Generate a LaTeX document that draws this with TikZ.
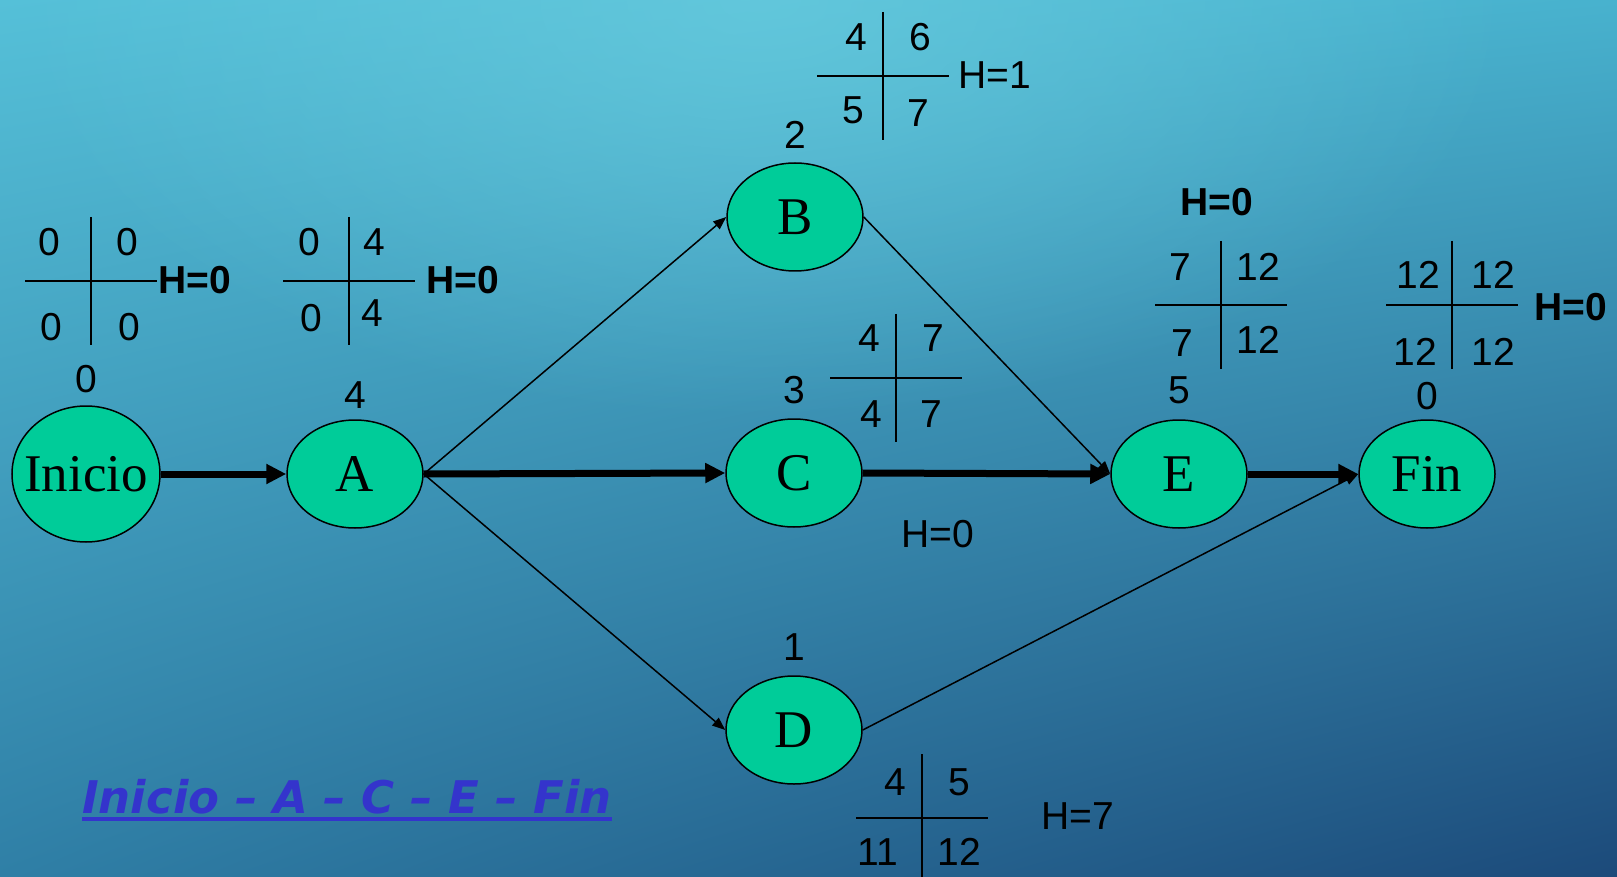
\documentclass[tikz,border=0pt]{standalone}
\usepackage{fontspec}
\setmainfont{Liberation Sans}
\newfontfamily\serifa{Liberation Serif}
\newfontfamily\rutafont{DejaVu Sans}
\usetikzlibrary{shapes.geometric,arrows.meta,fadings,shadings}
\definecolor{fondoUL}{HTML}{55C0D8}
\definecolor{fondoUR}{HTML}{48B2CE}
\definecolor{fondoLL}{HTML}{2F7FA6}
\definecolor{fondoLR}{HTML}{1C4A7A}
\definecolor{brilloC}{HTML}{6ACDDF}
\definecolor{verde}{HTML}{00CC99}
\definecolor{azulruta}{HTML}{3434CC}
\tikzfading[name=brillo, inner color=transparent!0, outer color=transparent!100]
% cruz de tiempos: centro x, centro y
\newcommand{\cruz}[2]{\draw[line width=1.5pt] (#1-66,#2) -- (#1+66,#2) (#1,#2-64) -- (#1,#2+64);}

\begin{document}
\begin{tikzpicture}[x=1pt, y=-1pt,
    evento/.style={ellipse, draw=black, line width=1.5pt, fill=verde, minimum width=136pt, minimum height=108pt, inner sep=0pt, font=\serifa\fontsize{53}{53}\selectfont},
    num/.style={inner sep=0pt, font=\fontsize{39}{39}\selectfont},
    holgura/.style={inner sep=0pt, font=\bfseries\fontsize{39}{39}\selectfont},
    critica/.style={line width=7pt, -{Triangle[length=20pt,width=19pt]}},
    actividad/.style={line width=1.5pt, -{Triangle[length=13pt,width=10pt]}}]
    % fondo
    \useasboundingbox (0,0) rectangle (1617,877);
    \shade[upper left=fondoUL, upper right=fondoUR, lower left=fondoLL, lower right=fondoLR] (0,0) rectangle (1617,877);
    \fill[brilloC, path fading=brillo, opacity=0.7] (760,0) ellipse (760 and 420);

    % eventos
    \node[evento, inner xsep=-10pt, minimum width=148pt, minimum height=136pt, label={[num, label distance=12pt]above:0}] (inicio) at (86,474) {Inicio};
    \node[evento, label={[num, label distance=11pt]above:4}] (A) at (355,474) {A};
    \node[evento, label={[num, label distance=14pt]above:2}] (B) at (795,217) {B};
    \node[evento, label={[num, label distance=14pt]above:3}] (C) at (794,473) {C};
    \node[evento, label={[num, label distance=15pt]above:1}] (D) at (794,730) {D};
    \node[evento, label={[num, label distance=15pt]above:5}] (E) at (1179,474) {E};
    \node[evento, label={[num, label distance=9pt]above:0}] (fin) at (1427,474) {Fin};

    % actividades
    \draw[critica] (inicio.east) -- (A.west);
    \draw[critica] (A.east) -- (C.west);
    \draw[critica] (C.east) -- (E.west);
    \draw[critica] (E.east) -- (fin.west);
    \draw[actividad] (A.east) -- (B.west);
    \draw[actividad] (A.east) -- (D.west);
    \draw[actividad] (B.east) -- (E.west);
    \draw[actividad] (D.east) -- (fin.west);

    % tiempos de inicio
    \cruz{91}{281}
    \node[num] (i1) at (49,242) {0};
    \node[num] (i2) at (127,242) {0};
    \node[num] (i3) at (51,327) {0};
    \node[num] (i4) at (129,327) {0};
    \node[holgura, anchor=west] (hi) at (158,280) {H=0};

    % tiempos de A
    \cruz{349}{281}
    \node[num] (a1) at (309,242) {0};
    \node[num] (a2) at (374,242) {4};
    \node[num] (a3) at (311,318) {0};
    \node[num] (a4) at (372,313) {4};
    \node[holgura, anchor=west] (ha) at (426,280) {H=0};

    % tiempos de B
    \cruz{883}{76}
    \node[num] (b1) at (856,37) {4};
    \node[num] (b2) at (920,37) {6};
    \node[num] (b3) at (853,110) {5};
    \node[num] (b4) at (918,113) {7};
    \node[num, anchor=west] (hb) at (958,75) {H=1};

    % tiempos de C
    \cruz{896}{378}
    \node[num] (c1) at (869,338) {4};
    \node[num] (c2) at (933,338) {7};
    \node[num] (c3) at (871,414) {4};
    \node[num] (c4) at (931,414) {7};
    \node[num] (hc) at (938,534) {H=0};

    % tiempos de D
    \cruz{922}{818}
    \node[num] (d1) at (895,782) {4};
    \node[num] (d2) at (959,782) {5};
    \node[num] (d3) at (878,852) {11};
    \node[num] (d4) at (959,852) {12};
    \node[num] (hd) at (1078,816) {H=7};

    % tiempos de E
    \cruz{1221}{305}
    \node[num] (e1) at (1180,267) {7};
    \node[num] (e2) at (1258,267) {12};
    \node[num] (e3) at (1182,343) {7};
    \node[num] (e4) at (1258,340) {12};
    \node[holgura] (he) at (1217,202) {H=0};

    % tiempos de fin
    \cruz{1452}{305}
    \node[num] (f1) at (1418,275) {12};
    \node[num] (f2) at (1493,275) {12};
    \node[num] (f3) at (1415,352) {12};
    \node[num] (f4) at (1493,352) {12};
    \node[holgura] (hf) at (1571,307) {H=0};

    % ruta critica
    \node[inner sep=0pt, anchor=base west, text=azulruta, font=\rutafont\bfseries\itshape\fontsize{45}{45}\selectfont] (ruta) at (82,813) {Inicio – A – C – E – Fin};
    \draw[azulruta, line width=4.5pt] ([yshift=-6pt]ruta.base west) -- ([yshift=-6pt]ruta.base east);
\end{tikzpicture}
\end{document}
